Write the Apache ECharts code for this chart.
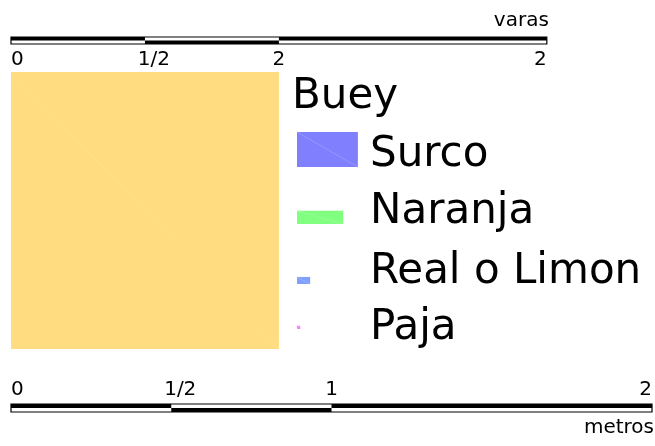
<!DOCTYPE html>
<html>
<head>
<meta charset="utf-8">
<script src="https://cdn.jsdelivr.net/npm/echarts@6/dist/echarts.min.js"></script>
<style>html,body{margin:0;padding:0;background:#fff}#c{width:655px;height:446px}</style>
</head>
<body>
<div id="c"></div>
<script>
// ---- data ----
var categories = ['Buey', 'Surco', 'Naranja', 'Real o Limon', 'Paja'];
var widthsM = [0.836, 0.190, 0.144, 0.041, 0.010];   // metres
var heightsM = [0.864, 0.109, 0.041, 0.022, 0.010];  // metres
var varaInMetres = 0.8359;
var varasTicks = [0, 0.5, 1, 2];
var varasLabels = ['0', '1/2', '2', '2'];
var metrosTicks = [0, 0.5, 1, 2];
var metrosLabels = ['0', '1/2', '1', '2'];

// ---- style / layout ----
var colors = ['#FFDC80', '#8080FF', '#80FF80', '#809FFF', '#FF80FF'];
var diagColors = ['#FFE39A', '#A4A4FF', '#A4FFA4', '#A4BCFF', '#FF80FF'];
var FONT = 'DejaVu Sans';
var BIG = 42, SMALL = 20;
var PX_PER_M = 641 / 2;
var YMAX = 446 / PX_PER_M;
var bueyTopPx = 72;
var legendTextX = 370;
var bueyTextX = 292;
var textBaselines = [107, 165, 222, 282, 338];
var swatchX = 297;
var swatchBottoms = [0, 167, 224, 284, 329];

var chart = echarts.init(document.getElementById('c'), null, {renderer: 'canvas'});

function rectSeriesData() {
  return categories.map(function (c, i) { return [widthsM[i], heightsM[i], i]; });
}

var option = {
  animation: false,
  grid: {left: 11, right: 3, top: 0, bottom: 0},
  xAxis: {type: 'value', min: 0, max: 2, show: false},
  yAxis: {type: 'value', min: 0, max: YMAX, inverse: true, show: false},
  series: [
    {
      type: 'custom',
      coordinateSystem: 'cartesian2d',
      data: rectSeriesData(),
      renderItem: function (params, api) {
        var i = api.value(2);
        var sz = api.size([api.value(0), api.value(1)]);
        var w = sz[0], h = sz[1];
        var x, y;
        var children = [];
        var tx = legendTextX;
        if (i === 0) {
          var o = api.coord([0, 0]);
          x = o[0]; y = bueyTopPx;
          tx = bueyTextX;
        } else {
          x = swatchX; y = swatchBottoms[i] - h;
        }
        children.push({type: 'rect', shape: {x: x, y: y, width: w, height: h}, style: {fill: colors[i]}});
        children.push({type: 'line', shape: {x1: x, y1: y, x2: x + w, y2: y + h}, style: {stroke: diagColors[i], lineWidth: 0.6}});
        children.push({type: 'text', style: {text: categories[i], x: tx, y: textBaselines[i] - 10, font: BIG + 'px "' + FONT + '"', fill: '#000', verticalAlign: 'middle', align: 'left'}});
        return {type: 'group', children: children};
      }
    },
    {
      type: 'custom',
      coordinateSystem: 'cartesian2d',
      data: [[0]],
      renderItem: function (params, api) {
        var children = [];
        function bar(ticksM, labels, top, bottom, labelY, unitText, unitY) {
          var x0 = api.coord([ticksM[0], 0])[0];
          var xN = api.coord([ticksM[ticksM.length - 1], 0])[0];
          var mid = (top + bottom) / 2;
          children.push({type: 'rect', shape: {x: x0, y: top, width: xN - x0, height: bottom - top}, style: {fill: '#fff', stroke: '#000', lineWidth: 1.2}});
          for (var k = 0; k < ticksM.length - 1; k++) {
            var a = api.coord([ticksM[k], 0])[0];
            var b = api.coord([ticksM[k + 1], 0])[0];
            var yy = (k % 2 === 0) ? top : mid;
            children.push({type: 'rect', shape: {x: a, y: yy, width: b - a, height: (bottom - top) / 2}, style: {fill: '#000'}});
          }
          for (var j = 0; j < ticksM.length; j++) {
            var px = api.coord([ticksM[j], 0])[0];
            var al = 'center';
            if (j === 0) al = 'left';
            else if (j === ticksM.length - 1) { al = 'right'; }
            if (labels[j].indexOf('/') >= 0) px += 9;
            children.push({type: 'text', style: {text: labels[j], x: px, y: labelY, font: SMALL + 'px "' + FONT + '"', fill: '#000', align: al, verticalAlign: 'middle'}});
          }
          children.push({type: 'text', style: {text: unitText, x: xN + 2, y: unitY, font: SMALL + 'px "' + FONT + '"', fill: '#000', align: 'right', verticalAlign: 'middle'}});
        }
        bar(varasTicks.map(function (v) { return v * varaInMetres; }), varasLabels, 37, 44, 60, 'varas', 21);
        bar(metrosTicks, metrosLabels, 404, 412, 389.5, 'metros', 428);
        return {type: 'group', children: children};
      }
    }
  ]
};
chart.setOption(option);
</script>
</body>
</html>
